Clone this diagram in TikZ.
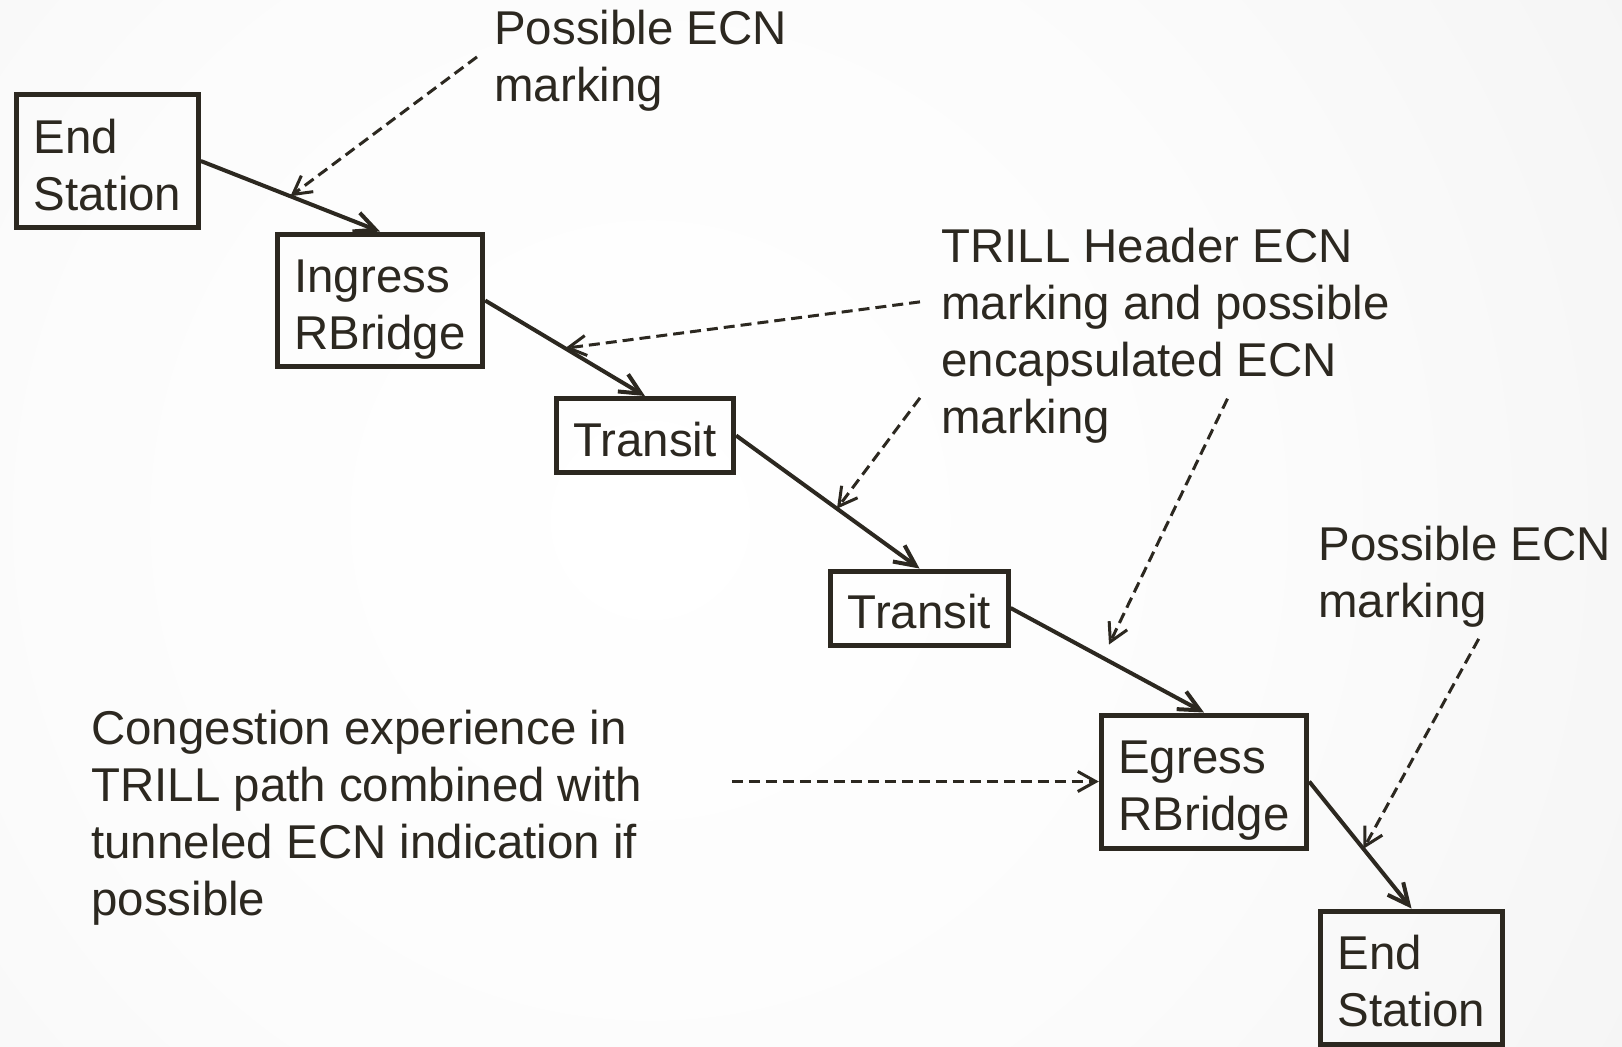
\documentclass[tikz,border=0pt]{standalone}
\usepackage{fontspec}
\setmainfont{Liberation Sans}
\usepackage{tikz}
\usetikzlibrary{arrows.meta, calc}
\definecolor{inkcolor}{RGB}{44, 40, 32}
\definecolor{bgA}{RGB}{252, 252, 252}
\definecolor{bgB}{RGB}{244, 244, 244}
\definecolor{bgC}{RGB}{230, 230, 230}
\definecolor{bgD}{RGB}{211, 211, 211}
\pgfdeclareradialshading{bgshade}{\pgfpoint{0bp}{0bp}}{color(0bp)=(white); color(12.5bp)=(bgA); color(25bp)=(bgB); color(37.5bp)=(bgC); color(50bp)=(bgD)}
\tikzstyle{device} = [rectangle, draw=inkcolor, line width=0.1cm, text=inkcolor, align=left, inner xsep=0.34cm, inner ysep=0cm, text depth=0pt, font=\fontsize{27}{32.4}\selectfont]
\tikzstyle{twoline} = [device, minimum height=2.66cm, execute at begin node={\rule{0pt}{1.96cm}}]
\tikzstyle{oneline} = [device, minimum height=1.48cm, execute at begin node={\rule{0pt}{0.82cm}}]
\tikzstyle{note} = [anchor=north west, inner sep=0pt, align=left, text=inkcolor, font=\fontsize{27}{32.4}\selectfont]
\tikzstyle{arrow} = [draw=inkcolor, line width=0.08cm, -{Straight Barb[length=0.42cm, width=0.4cm]}]
\tikzstyle{hint} = [draw=inkcolor, line width=0.06cm, dash pattern=on 0.22cm off 0.12cm, -{Straight Barb[length=0.36cm, width=0.4cm]}]

\begin{document}
\begin{tikzpicture}[x=0.02cm, y=-0.02cm]
    % Background
    \begin{scope}
        \clip (0,0) rectangle (1622,1046);
        \shade[shading=bgshade] (650,520) circle (1200);
    \end{scope}
    \useasboundingbox (0,0) rectangle (1622,1046);

    % Path through the TRILL campus
    \node[twoline] (es1) at (107.5,161) {End\\Station};
    \node[twoline] (ing) at (380,300.5) {Ingress\\RBridge};
    \node[oneline] (tr1) at (645,435.5) {Transit};
    \node[oneline] (tr2) at (919.5,608) {Transit};
    \node[twoline] (eg) at (1204,781.5) {Egress\\RBridge};
    \node[twoline] (es2) at (1411.5,977.5) {End\\Station};

    % Notes
    \node[note] (ecnA) at (494,10) {Possible ECN\\marking};
    \node[note] (trill) at (941,228) {TRILL Header ECN\\marking and possible\\encapsulated ECN\\marking};
    \node[note] (ecnB) at (1318,526) {Possible ECN\\marking};
    \node[note] (cong) at (91,710) {Congestion experience in\\TRILL path combined with\\tunneled ECN indication if\\possible};

    % Arrows - frame path
    \draw[arrow] (es1.east) -- (ing.north) coordinate[pos=0.5] (m1);
    \draw[arrow] (ing.east) -- (tr1.north) coordinate[pos=0.5] (m2);
    \draw[arrow] (tr1.east) -- (tr2.north) coordinate[pos=0.55] (m3);
    \draw[arrow] (tr2.east) -- (eg.north);
    \draw[arrow] (eg.east) -- (es2.north) coordinate[pos=0.53] (m5);

    % Arrows - marking notes
    \coordinate (egtip) at ($(eg.north)+(-95,-68)$);
    \draw[hint] ($(ecnA.west)+(-17,-4)$) -- (m1);
    \draw[hint] ($(trill.west)+(-21,-34)$) -- (m2);
    \draw[hint] ($(trill.west)+(-21,62)$) -- (m3);
    \draw[hint] ($(trill.south)+(62,-45)$) -- (egtip);
    \draw[hint] ($(ecnB.south)+(14,11)$) -- (m5);
    \draw[hint] ($(cong.east |- eg.west)+(89,0)$) -- (eg.west);
\end{tikzpicture}
\end{document}
